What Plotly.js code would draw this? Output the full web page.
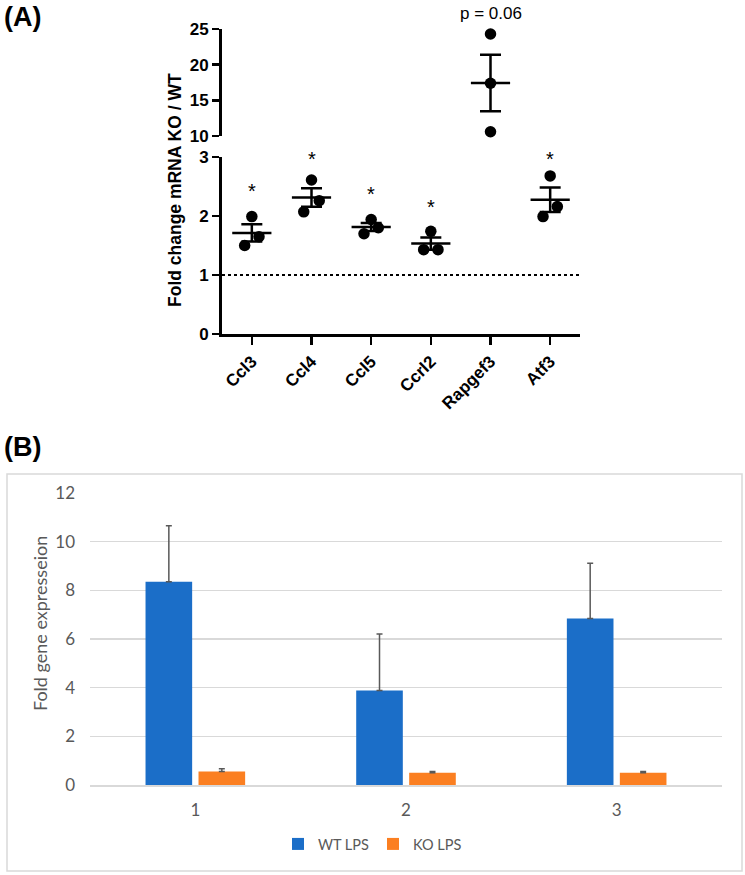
<!DOCTYPE html>
<html>
<head>
<meta charset="utf-8">
<script src="https://cdn.plot.ly/plotly-3.0.1.min.js"></script>
<style>
  html, body { margin: 0; padding: 0; background: #ffffff; }
  #chart { width: 745px; height: 875px; }
</style>
</head>
<body>
<div id="chart"></div>
<script>
// ---------- Panel A data ----------
const genes = ['Ccl3', 'Ccl4', 'Ccl5', 'Ccrl2', 'Rapgef3', 'Atf3'];
const rep1 = [1.99, 2.61, 1.94, 1.74, 24.3, 2.68];   // centre point
const rep2 = [1.50, 2.07, 1.70, 1.43, 17.4, 1.99];   // left point
const rep3 = [1.65, 2.26, 1.80, 1.43, 10.6, 2.16];   // right point
const segment = ['low', 'low', 'low', 'low', 'high', 'low'];
const sigText = ['*', '*', '*', '*', 'p = 0.06', '*'];
const sigY = [2.53, 3.07, 2.48, 2.26, 27.2, 3.07];
const jitter = [0.12, 0.13, 0.12, 0.12, 0, 0.12];
const lowRange = [0, 3];
const highRange = [10, 25];
const lowTicks = [0, 1, 2, 3];
const highTicks = [10, 15, 20, 25];
const refLine = 1;

// ---------- Panel B data ----------
const groups = ['1', '2', '3'];
const wtLPS = [8.35, 3.88, 6.84];
const wtErr = [2.30, 2.33, 2.27];
const koLPS = [0.55, 0.50, 0.50];
const koErr = [0.12, 0.05, 0.05];

// ---------- helpers ----------
const W = 745, H = 875;
const px = v => v / W;
const py = v => (H - v) / H;

// pixel positions of the axes
const lowDom = [334, 157];   // pixel rows of range ends
const highDom = [136, 29];

function mean(a) { return a.reduce((s, v) => s + v, 0) / a.length; }
function sem(a) {
  const m = mean(a);
  const sd = Math.sqrt(a.reduce((s, v) => s + (v - m) * (v - m), 0) / (a.length - 1));
  return sd / Math.sqrt(a.length);
}

const traces = [];
[['low', 'y'], ['high', 'y2']].forEach(([seg, yax]) => {
  const idx = genes.map((g, i) => i).filter(i => segment[i] === seg);
  const xs = [], ys = [];
  idx.forEach(i => {
    xs.push(i, i - jitter[i], i + jitter[i]);
    ys.push(rep1[i], rep2[i], rep3[i]);
  });
  traces.push({
    type: 'scatter', mode: 'markers', x: xs, y: ys, xaxis: 'x', yaxis: yax,
    marker: { symbol: 'circle', size: 11.5, color: '#000000' },
    cliponaxis: false, showlegend: false, hoverinfo: 'skip'
  });
  const means = idx.map(i => mean([rep1[i], rep2[i], rep3[i]]));
  const sems = idx.map(i => sem([rep1[i], rep2[i], rep3[i]]));
  traces.push({
    type: 'scatter', mode: 'markers', x: idx, y: means, xaxis: 'x', yaxis: yax,
    marker: { symbol: 'line-ew', size: 28, color: '#000000', line: { width: 2.5, color: '#000000' } },
    error_y: { type: 'data', array: sems, visible: true, color: '#000000', thickness: 2.5, width: 10.5 },
    cliponaxis: false, showlegend: false, hoverinfo: 'skip'
  });
});

traces.push({
  type: 'bar', name: 'WT LPS', x: groups, y: wtLPS, xaxis: 'x3', yaxis: 'y3',
  marker: { color: '#1b6ec8' },
  error_y: { type: 'data', symmetric: false, array: wtErr, arrayminus: wtErr.map(() => 0), color: '#595959', thickness: 1.5, width: 3 }
});
traces.push({
  type: 'bar', name: 'KO LPS', x: groups, y: koLPS, xaxis: 'x3', yaxis: 'y3',
  marker: { color: '#fb7f21' },
  error_y: { type: 'data', symmetric: false, array: koErr, arrayminus: koErr.map(() => 0), color: '#595959', thickness: 1.5, width: 3 }
});

const boldFont = { family: 'Liberation Sans, Arial, sans-serif', size: 17, color: '#000000', weight: 700 };
const grayFont = { family: 'Lato, sans-serif', size: 17, color: '#595959' };

const annotations = [];
genes.forEach((g, i) => {
  const isHigh = segment[i] === 'high';
  const rng = isHigh ? highRange : lowRange;
  const dom = isHigh ? highDom : lowDom;
  const pxPerUnit = (dom[0] - dom[1]) / (rng[1] - rng[0]);
  const anchor = Math.min(sigY[i], rng[1]);
  annotations.push({
    xref: 'x', yref: isHigh ? 'y2' : 'y', x: i, y: anchor,
    text: sigText[i], showarrow: false, yanchor: 'middle',
    yshift: (sigY[i] - anchor) * pxPerUnit + (isHigh ? 0 : -6),
    font: { family: 'Liberation Sans, Arial, sans-serif', size: isHigh ? 17 : 20, color: '#000000' }
  });
});
annotations.push({
  xref: 'paper', yref: 'paper', x: px(175), y: py(190), textangle: -90,
  text: 'Fold change mRNA KO / WT', showarrow: false, xanchor: 'center', yanchor: 'middle',
  font: { family: 'Liberation Sans, Arial, sans-serif', size: 17.5, color: '#000000', weight: 700 }
});
annotations.push({
  xref: 'paper', yref: 'paper', x: px(2), y: py(17), xanchor: 'left', yanchor: 'middle',
  text: '(A)', showarrow: false,
  font: { family: 'Liberation Sans, Arial, sans-serif', size: 27, color: '#000000', weight: 700 }
});
annotations.push({
  xref: 'paper', yref: 'paper', x: px(2), y: py(447), xanchor: 'left', yanchor: 'middle',
  text: '(B)', showarrow: false,
  font: { family: 'Liberation Sans, Arial, sans-serif', size: 27, color: '#000000', weight: 700 }
});
annotations.push({
  xref: 'paper', yref: 'paper', x: px(40), y: py(624), textangle: -90,
  text: 'Fold gene expresseion', showarrow: false, xanchor: 'center', yanchor: 'middle',
  font: { family: 'Lato, sans-serif', size: 18, color: '#595959' }
});

const layout = {
  width: W, height: H,
  margin: { l: 0, r: 0, t: 0, b: 0 },
  paper_bgcolor: '#ffffff', plot_bgcolor: 'rgba(0,0,0,0)',
  showlegend: true,
  legend: {
    orientation: 'h', x: px(278), xanchor: 'left', y: py(844), yanchor: 'middle',
    font: { family: 'Lato, sans-serif', size: 14.5, color: '#595959' },
    itemwidth: 30, entrywidth: 50, bgcolor: 'rgba(0,0,0,0)'
  },
  barmode: 'group', bargap: 0.497, bargroupgap: 0.12,
  xaxis: {
    domain: [px(222), px(580)], anchor: 'y', range: [-0.5, 5.5],
    tickmode: 'array', tickvals: genes.map((g, i) => i), ticktext: genes, tickangle: -45,
    showline: true, linecolor: '#000000', linewidth: 3,
    ticks: 'outside', ticklen: 8, tickwidth: 2.5, tickcolor: '#000000',
    showgrid: false, zeroline: false, tickfont: boldFont, fixedrange: true
  },
  yaxis: {
    domain: [py(lowDom[0]), py(lowDom[1])], anchor: 'x', range: lowRange,
    tickmode: 'array', tickvals: lowTicks,
    showline: true, linecolor: '#000000', linewidth: 3,
    ticks: 'outside', ticklen: 7, tickwidth: 2.5, tickcolor: '#000000',
    showgrid: false, zeroline: false, tickfont: boldFont, ticklabelstandoff: 0
  },
  yaxis2: {
    domain: [py(highDom[0]), py(highDom[1])], anchor: 'x', range: highRange,
    tickmode: 'array', tickvals: highTicks,
    showline: true, linecolor: '#000000', linewidth: 3,
    ticks: 'outside', ticklen: 7, tickwidth: 2.5, tickcolor: '#000000',
    showgrid: false, zeroline: false, tickfont: boldFont, ticklabelstandoff: 0
  },
  xaxis3: {
    domain: [px(90), px(722)], anchor: 'y3', type: 'category',
    showline: true, linecolor: '#d9d9d9', linewidth: 1.5,
    ticks: '', showgrid: false, zeroline: false, tickfont: grayFont, ticklabelstandoff: 9
  },
  yaxis3: {
    domain: [py(785), py(493)], anchor: 'x3', range: [0, 12], dtick: 2,
    showline: false, ticks: '', showgrid: true, gridcolor: '#d9d9d9', gridwidth: 1.5,
    zeroline: false, tickfont: grayFont, ticklabelstandoff: 14
  },
  shapes: [
    { type: 'line', xref: 'x', yref: 'y', x0: -0.5, x1: 5.5, y0: refLine, y1: refLine,
      line: { color: '#000000', width: 2, dash: 'dot' } },
    { type: 'rect', xref: 'paper', yref: 'paper', x0: px(7), x1: px(742), y0: py(871), y1: py(474),
      line: { color: '#d9d9d9', width: 1.5 }, fillcolor: 'rgba(0,0,0,0)' }
  ],
  annotations: annotations
};

Plotly.newPlot('chart', traces, layout, { staticPlot: true, displayModeBar: false });
</script>
</body>
</html>
